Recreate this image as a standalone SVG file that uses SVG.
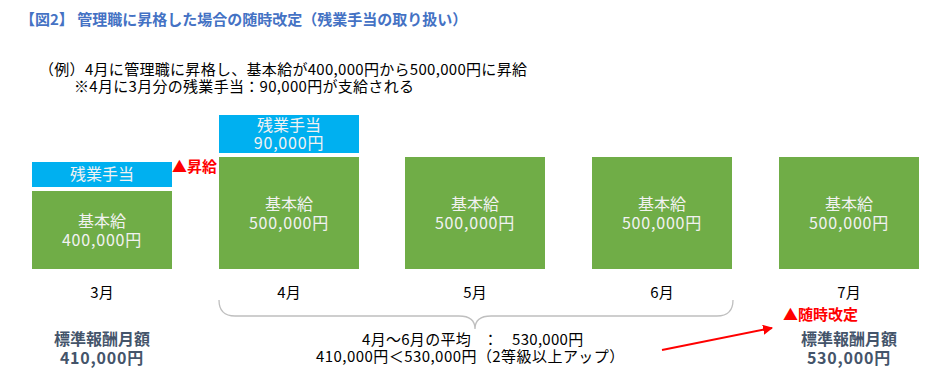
<svg xmlns="http://www.w3.org/2000/svg" width="939" height="383" viewBox="0 0 939 383">
<defs>
<style>
text{font-family:"Noto Sans CJK JP","Noto Sans",sans-serif;}
.title{font-size:15px;font-weight:bold;fill:#4472C4;}
.body{font-size:15px;fill:#000;letter-spacing:0.3px;}
.box{font-size:16px;fill:#F2F2F2;text-anchor:middle;}
.num{letter-spacing:0.8px;}
.mon{font-size:15px;fill:#000;text-anchor:middle;}
.red{font-size:15px;font-weight:bold;fill:#FF0000;}
.std{font-size:16px;font-weight:bold;fill:#44546A;text-anchor:middle;}
.green{fill:#70AD47;}
.cyan{fill:#00B0F0;}
</style>
<marker id="ah" viewBox="0 0 10 10" refX="9" refY="5" markerWidth="5" markerHeight="5" orient="auto" markerUnits="strokeWidth">
<path d="M0,0 L10,5 L0,10 z" fill="#FF0000"/>
</marker>
</defs>
<rect width="939" height="383" fill="#FFFFFF"/>
<text class="title" x="20" y="25">【図2】 管理職に昇格した場合の随時改定（残業手当の取り扱い）</text>
<text class="body" x="39" y="75">（例）4月に管理職に昇格し、基本給が400,000円から500,000円に昇給</text>
<text class="body" x="74" y="92">※4月に3月分の残業手当：90,000円が支給される</text>

<g id="m3">
<rect class="cyan" x="32" y="162" width="140" height="25"/>
<text class="box" x="102" y="180">残業手当</text>
<rect class="green" x="32" y="191" width="140" height="78"/>
<text class="box" x="102" y="227">基本給</text>
<text class="box num" x="102" y="246">400,000円</text>
<text class="mon" x="102" y="298">3月</text>
</g>
<g id="shokyu">
<text class="red" x="172" y="172">▲昇給</text>
</g>
<g id="m4">
<rect class="cyan" x="219" y="115" width="140" height="38"/>
<text class="box" x="289" y="131">残業手当</text>
<text class="box num" x="289" y="149">90,000円</text>
<rect class="green" x="219" y="157" width="140" height="112"/>
<text class="box" x="289" y="210">基本給</text>
<text class="box num" x="289" y="229">500,000円</text>
<text class="mon" x="289" y="298">4月</text>
</g>
<g id="m5">
<rect class="green" x="405" y="157" width="140" height="112"/>
<text class="box" x="475" y="210">基本給</text>
<text class="box num" x="475" y="229">500,000円</text>
<text class="mon" x="475" y="298">5月</text>
</g>
<g id="m6">
<rect class="green" x="592" y="157" width="140" height="112"/>
<text class="box" x="662" y="210">基本給</text>
<text class="box num" x="662" y="229">500,000円</text>
<text class="mon" x="662" y="298">6月</text>
</g>
<g id="m7">
<rect class="green" x="779" y="157" width="140" height="112"/>
<text class="box" x="849" y="210">基本給</text>
<text class="box num" x="849" y="229">500,000円</text>
<text class="mon" x="849" y="298">7月</text>
</g>

<g id="std3">
<text class="std" x="102" y="345">標準報酬月額</text>
<text class="std num" x="102" y="364">410,000円</text>
</g>
<g id="avg">
<text class="body" y="345"><tspan x="362">4月～6月の平均</tspan><tspan x="483">：</tspan><tspan x="512">530,000円</tspan></text>
<text class="body" x="316" y="362" style="letter-spacing:0.45px">410,000円＜530,000円（2等級以上アップ）</text>
</g>
<g id="zuiji">
<text class="red" x="783" y="320">▲随時改定</text>
</g>
<g id="std7">
<text class="std" x="849" y="345">標準報酬月額</text>
<text class="std num" x="849" y="364">530,000円</text>
</g>

<g id="connectors">
<path d="M219,300 Q219,316 235,316 L459,316 Q475,316 475,329 Q475,316 491,316 L717,316 Q733,316 733,300" fill="none" stroke="#BFBFBF" stroke-width="1.3"/>
<line x1="662" y1="350" x2="772" y2="328" stroke="#FF0000" stroke-width="2" marker-end="url(#ah)"/>
</g>
</svg>
